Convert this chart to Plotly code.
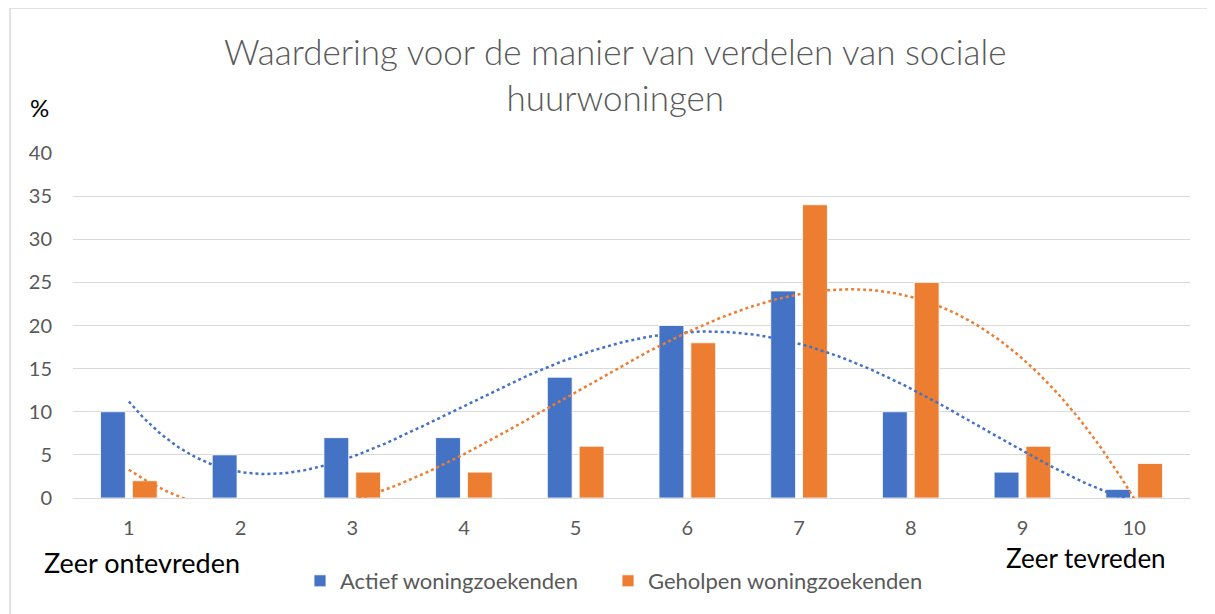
import numpy as np
import plotly.graph_objects as go

categories = [1, 2, 3, 4, 5, 6, 7, 8, 9, 10]
actief = [10, 5, 7, 7, 14, 20, 24, 10, 3, 1]
geholpen = [2, 0, 3, 3, 6, 18, 34, 25, 6, 4]
tick_labels = [str(c) for c in categories]
title_text = "Waardering voor de manier van verdelen van sociale<br>huurwoningen"

BLUE = "#4472C4"
ORANGE = "#ED7D31"
GRAY = "#595959"
FONT = "Lato"

fig = go.Figure()
fig.add_trace(go.Bar(x=categories, y=actief, name="Actief woningzoekenden", legend="legend",
                     marker=dict(color=BLUE, line=dict(color="white", width=0.8))))
fig.add_trace(go.Bar(x=categories, y=geholpen, name="Geholpen woningzoekenden", legend="legend2",
                     marker=dict(color=ORANGE, line=dict(color="white", width=0.8))))

# polynomial trendlines fitted to each series (as in the original chart)
xs = np.linspace(categories[0], categories[-1], 300)
for vals, col, deg in [(actief, BLUE, 4), (geholpen, ORANGE, 3)]:
    coef = np.polyfit(categories, vals, deg)
    fig.add_trace(go.Scatter(x=xs, y=np.polyval(coef, xs), mode="lines",
                             line=dict(color=col, width=2.5, dash="dot"),
                             showlegend=False, hoverinfo="skip"))

OFF = 8  # page body offset
W, H = 1215 - OFF, 614 - OFF
L, R, T, B = 73 - OFF, 25, 153 - OFF, 116
pw, ph = W - L - R, H - T - B

def px(x):
    return (x - OFF - L) / pw

def py(y):
    return (H - B - (y - OFF)) / ph

leg_common = dict(orientation="h", xanchor="left", y=py(581), yanchor="middle",
                  font=dict(size=22, color=GRAY), itemwidth=30,
                  bgcolor="rgba(0,0,0,0)")

fig.update_layout(
    width=W, height=H,
    margin=dict(l=L, r=R, t=T, b=B),
    paper_bgcolor="white", plot_bgcolor="white",
    barmode="group", bargap=0.43, bargroupgap=0.22,
    font=dict(family=FONT, color=GRAY, size=20),
    showlegend=True,
    legend=dict(x=px(300), **leg_common),
    legend2=dict(x=px(608), **leg_common),
    xaxis=dict(range=[0.5, 10.5], tickvals=categories, ticktext=tick_labels,
               showgrid=False, zeroline=False, showline=True, linecolor="#D9D9D9",
               ticks="", ticklabelstandoff=12, tickfont=dict(size=20, color=GRAY)),
    yaxis=dict(range=[0, 40], dtick=5, gridcolor="#D9D9D9", gridwidth=1,
               zeroline=False, showline=False, ticks="", ticklabelstandoff=20,
               tickfont=dict(size=20, color=GRAY)),
    annotations=[
        dict(text=title_text, xref="paper", yref="paper", x=px(615), y=py(74),
             xanchor="center", yanchor="middle", showarrow=False,
             font=dict(size=35, color=GRAY, family=FONT, weight=300)),
        dict(text="%", xref="paper", yref="paper", x=px(39), y=py(107),
             xanchor="center", yanchor="middle", showarrow=False,
             font=dict(size=24, color="black", family=FONT)),
        dict(text="Zeer ontevreden", xref="paper", yref="paper", x=px(142), y=py(562),
             xanchor="center", yanchor="middle", showarrow=False,
             font=dict(size=27, color="black", family=FONT)),
        dict(text="Zeer tevreden", xref="paper", yref="paper", x=px(1086), y=py(558),
             xanchor="center", yanchor="middle", showarrow=False,
             font=dict(size=26, color="black", family=FONT)),
    ],
    shapes=[dict(type="rect", xref="paper", yref="paper",
                 x0=px(10), x1=px(1240), y0=py(640), y1=py(8),
                 line=dict(color="#D9D9D9", width=1.5), fillcolor="rgba(0,0,0,0)",
                 layer="below")],
)

fig.write_html("out.html")
